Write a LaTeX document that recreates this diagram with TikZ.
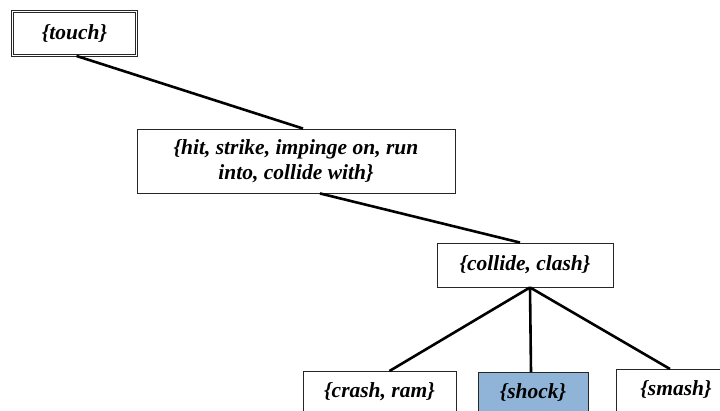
\documentclass[tikz,border=0pt]{standalone}
\usepackage{fontspec}
\setmainfont{Liberation Serif}
\definecolor{shockblue}{RGB}{143,180,216}
\begin{document}
\begin{tikzpicture}[x=1pt,y=-1pt,
  box/.style={draw=black!85, line width=0.9pt, fill=white, inner sep=0pt, align=center,
     font=\fontsize{21.5}{25}\selectfont\bfseries\itshape},
  edge/.style={line width=2.6pt, black}]
\useasboundingbox (0,0) rectangle (720,411);
\clip (0,0) rectangle (720,411);
\node[box, minimum width=124, minimum height=44, double, double distance=1.6pt] (touch) at (74.5,33.5) {\{touch\}};
\node[box, minimum width=318, minimum height=64] (hit) at (296,161) {\{hit, strike, impinge on, run\\into, collide with\}};
\node[box, minimum width=176, minimum height=44] (collide) at (525,265) {\{collide, clash\}};
\node[box, minimum width=153, minimum height=50, anchor=north] (crash) at (379.5,371) {\raisebox{12pt}{\{crash, ram\}}};
\node[box, fill=shockblue, minimum width=110, minimum height=50, anchor=north] (shock) at (533,372) {\raisebox{12pt}{\{shock\}}};
\node[box, minimum width=120, minimum height=50, anchor=north] (smash) at (676,369) {\raisebox{12pt}{\{smash\}}};
\draw[edge] ([xshift=2]touch.south) -- ([xshift=7]hit.north);
\draw[edge] ([xshift=24]hit.south) -- ([xshift=-5]collide.north);
\draw[edge] ([xshift=5]collide.south) -- ([xshift=10]crash.north);
\draw[edge] ([xshift=5]collide.south) -- ([xshift=-2]shock.north);
\draw[edge] ([xshift=5]collide.south) -- ([xshift=-6]smash.north);
\end{tikzpicture}
\end{document}
